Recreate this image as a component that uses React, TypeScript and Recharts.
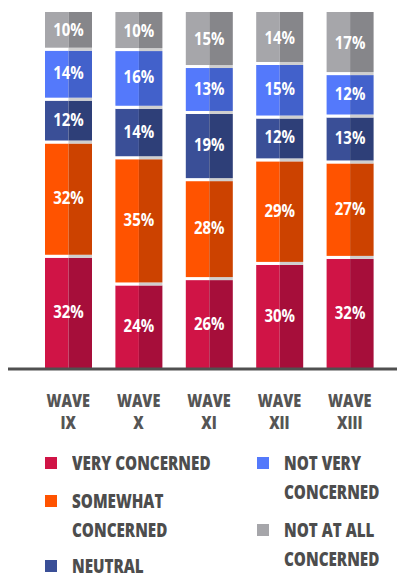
import React from 'react';
import { BarChart, Bar, XAxis, YAxis, LabelList } from 'recharts';

const waves = ['IX', 'X', 'XI', 'XII', 'XIII'];
const veryConcerned = [32, 24, 26, 30, 32];
const somewhatConcerned = [32, 35, 28, 29, 27];
const neutral = [12, 14, 19, 12, 13];
const notVeryConcerned = [14, 16, 13, 15, 12];
const notAtAllConcerned = [10, 10, 15, 14, 17];

const FONT = "'Open Sans', sans-serif";

const series = [
  { key: 'very', label: 'VERY CONCERNED', values: veryConcerned, light: '#D01446', dark: '#A60E3A' },
  { key: 'somewhat', label: 'SOMEWHAT\nCONCERNED', values: somewhatConcerned, light: '#FF5300', dark: '#CC4200' },
  { key: 'neutral', label: 'NEUTRAL', values: neutral, light: '#3A4F97', dark: '#2E3F78' },
  { key: 'notVery', label: 'NOT VERY\nCONCERNED', values: notVeryConcerned, light: '#5479FB', dark: '#4261CB' },
  { key: 'notAtAll', label: 'NOT AT ALL\nCONCERNED', values: notAtAllConcerned, light: '#A6A6AA', dark: '#86868A' },
];

const data = waves.map((w, i) => {
  const row: Record<string, any> = { wave: w };
  series.forEach((s) => (row[s.key] = s.values[i]));
  return row;
});

// squeeze text horizontally around cx (the original uses a condensed face)
const squeeze = (cx: number, k: number) => `translate(${cx},0) scale(${k},1) translate(${-cx},0)`;

// two-tone segment with a small separator on top
const makeShape = (light: string, dark: string, isTop: boolean) => (props: any) => {
  const { x, y, width, height } = props;
  const half = width / 2;
  const gap = isTop ? 0 : 3;
  return (
    <g>
      <rect x={x} y={y + gap} width={half} height={Math.max(height - gap, 0)} fill={light} />
      <rect x={x + half} y={y + gap} width={width - half} height={Math.max(height - gap, 0)} fill={dark} />
      {!isTop && (
        <>
          <rect x={x} y={y} width={half} height={gap} fill="#ffffff" />
          <rect x={x + half} y={y} width={width - half} height={gap} fill="#cfcfcf" />
        </>
      )}
    </g>
  );
};

const renderLabel = (props: any) => {
  const { x, y, width, height, value } = props;
  const cx = x + width / 2;
  return (
    <text
      x={cx}
      y={y + height / 2 + 2}
      textAnchor="middle"
      dominantBaseline="middle"
      fill="#ffffff"
      fontFamily={FONT}
      fontWeight={700}
      fontSize={17}
      transform={squeeze(cx, 0.88)}
    >
      {value}%
    </text>
  );
};

const WaveTick = (props: any) => {
  const { x, y, payload } = props;
  return (
    <text
      x={x}
      y={y}
      textAnchor="middle"
      fill="#555555"
      fontFamily={FONT}
      fontWeight={800}
      fontSize={17}
      transform={squeeze(x, 0.85)}
    >
      <tspan x={x} dy={30}>WAVE</tspan>
      <tspan x={x} dy={22}>{payload.value}</tspan>
    </text>
  );
};

const legendPos: Record<string, { left: number; top: number }> = {
  very: { left: 37, top: 440 },
  somewhat: { left: 37, top: 478 },
  neutral: { left: 37, top: 543 },
  notVery: { left: 249, top: 440 },
  notAtAll: { left: 249, top: 507 },
};

export default function App() {
  return (
    <div style={{ position: 'relative', width: 397, height: 566 }}>
      <BarChart
        width={397}
        height={430}
        data={data}
        stackOffset="expand"
        margin={{ top: 4, right: 2, left: 0, bottom: 0 }}
        barSize={47}
      >
        <XAxis
          dataKey="wave"
          axisLine={{ stroke: '#505050', strokeWidth: 3 }}
          tickLine={false}
          tick={<WaveTick />}
          interval={0}
          height={69}
          padding={{ left: 25, right: 18 }}
        />
        <YAxis hide domain={[0, 1]} />
        {series.map((s, i) => (
          <Bar
            key={s.key}
            dataKey={s.key}
            stackId="a"
            fill={s.light}
            isAnimationActive={false}
            shape={makeShape(s.light, s.dark, i === series.length - 1)}
          >
            <LabelList dataKey={s.key} content={renderLabel} />
          </Bar>
        ))}
      </BarChart>
      {series.map((s) => (
        <div
          key={s.key}
          style={{
            position: 'absolute',
            left: legendPos[s.key].left,
            top: legendPos[s.key].top,
            display: 'flex',
            alignItems: 'flex-start',
          }}
        >
          <div style={{ width: 12, height: 12, background: s.light, marginTop: 9, marginRight: 15, flexShrink: 0 }} />
          <div
            style={{
              whiteSpace: 'pre',
              fontFamily: FONT,
              fontWeight: 800,
              fontSize: 20,
              lineHeight: '29px',
              color: '#4d4d4d',
              transform: 'scaleX(0.76)',
              transformOrigin: 'left top',
            }}
          >
            {s.label}
          </div>
        </div>
      ))}
    </div>
  );
}
